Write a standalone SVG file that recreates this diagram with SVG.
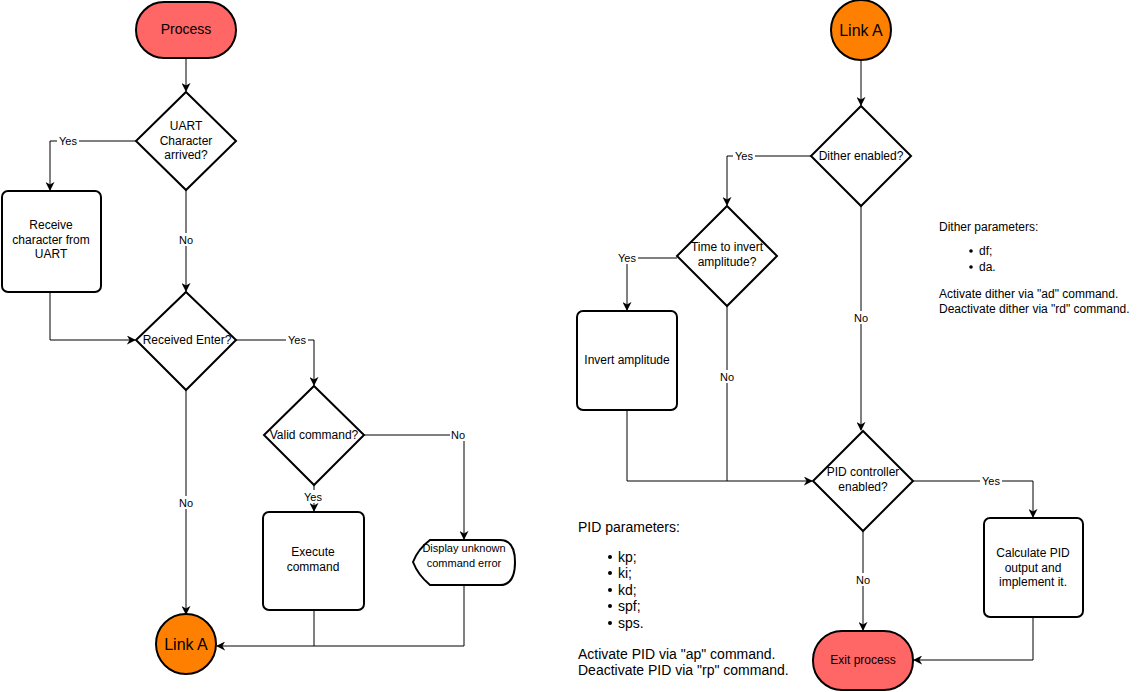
<svg xmlns="http://www.w3.org/2000/svg" width="1142" height="692" viewBox="0 0 1142 692">
<defs>
<marker id="ar" viewBox="0 0 10 10" refX="9" refY="5" markerWidth="9" markerHeight="9" orient="auto" markerUnits="userSpaceOnUse"><path d="M0,0 L10,5 L0,10 L3,5Z" fill="#000"/></marker>
</defs>
<style>
text{font-family:"Liberation Sans",Arial,sans-serif;font-size:12px;fill:#000}
.s{fill:#fff;stroke:#000;stroke-width:2}
.c{fill:none;stroke:#000;stroke-width:1;marker-end:url(#ar)}
.p{fill:none;stroke:#000;stroke-width:1}
.m{text-anchor:middle}
.l{font-size:11px;text-anchor:middle}
.lb{fill:#fff}
</style>
<rect width="1142" height="692" fill="#fff"/>
<g id="connectors">
<path class="c" d="M186,58 V91"/>
<path class="c" d="M136,141 H50 V190"/>
<path class="c" d="M186,190 V291"/>
<path class="p" d="M50,292 V340"/><path class="c" d="M50,340 H135"/>
<path class="c" d="M236,340 H314 V385"/>
<path class="c" d="M314,485 V511"/>
<path class="c" d="M364,435 H464 V539"/>
<path class="c" d="M186,390 V614"/>
<path class="c" d="M314,610 V646 H217"/>
<path class="p" d="M464,585 V646 H314"/>
<path class="c" d="M861,60 V105"/>
<path class="c" d="M811,156 H727 V205"/>
<path class="c" d="M677,258 H627 V310"/>
<path class="p" d="M727,306 V481"/>
<path class="c" d="M627,410 V481 H812"/>
<path class="c" d="M861,206 V430"/>
<path class="c" d="M913,481 H1033 V517"/>
<path class="c" d="M863,531 V630"/>
<path class="c" d="M1033,617 V660 H914"/>
<g class="labels">
<rect class="lb" x="57" y="134" width="22" height="13"/><text class="l" x="68" y="145">Yes</text>
<rect class="lb" x="178" y="233" width="16" height="13"/><text class="l" x="186" y="244">No</text>
<rect class="lb" x="286" y="333" width="22" height="13"/><text class="l" x="297" y="344">Yes</text>
<rect class="lb" x="302" y="490" width="22" height="13"/><text class="l" x="313" y="501">Yes</text>
<rect class="lb" x="450" y="428" width="16" height="13"/><text class="l" x="458" y="439">No</text>
<rect class="lb" x="178" y="496" width="16" height="13"/><text class="l" x="186" y="507">No</text>
<rect class="lb" x="733" y="149" width="22" height="13"/><text class="l" x="744" y="160">Yes</text>
<rect class="lb" x="616" y="251" width="22" height="13"/><text class="l" x="627" y="262">Yes</text>
<rect class="lb" x="719" y="370" width="16" height="13"/><text class="l" x="727" y="381">No</text>
<rect class="lb" x="853" y="311" width="16" height="13"/><text class="l" x="861" y="322">No</text>
<rect class="lb" x="980" y="474" width="22" height="13"/><text class="l" x="991" y="485">Yes</text>
<rect class="lb" x="855" y="573" width="16" height="13"/><text class="l" x="863" y="584">No</text>
</g>
</g>
<g id="process"><rect class="s" x="136" y="2" width="100" height="56" rx="28" style="fill:#FF6666"/><text class="m" x="186" y="34" style="font-size:14px">Process</text></g>
<g id="uart"><path class="s" d="M186,92 L236,141 L186,190 L136,141Z"/><text class="m" x="186" y="130">UART</text><text class="m" x="186" y="145">Character</text><text class="m" x="186" y="159">arrived?</text></g>
<g id="receive"><rect class="s" x="2" y="191" width="99" height="101" rx="6"/><text class="m" x="51" y="229">Receive</text><text class="m" x="51" y="244">character from</text><text class="m" x="51" y="258">UART</text></g>
<g id="enter"><path class="s" d="M186,292 L236,340 L186,390 L136,340Z"/><text class="m" x="187" y="344">Received Enter?</text></g>
<g id="valid"><path class="s" d="M314,386 L364,435 L314,485 L264,435Z"/><text class="m" x="314" y="439">Valid command?</text></g>
<g id="execute"><rect class="s" x="263" y="512" width="101" height="98" rx="6"/><text class="m" x="313" y="556">Execute</text><text class="m" x="313" y="571">command</text></g>
<g id="display"><path class="s" d="M430,540 L500,540 Q515,540 515,562 Q515,585 500,585 L430,585 Q418,575 413,562 Q418,549 430,540Z"/><text class="m" x="464" y="552" style="font-size:11px">Display unknown</text><text class="m" x="464" y="567" style="font-size:11px">command error</text></g>
<g id="linkA1"><circle class="s" cx="186" cy="644" r="30" style="fill:#FF8000"/><text class="m" x="186" y="650" style="font-size:16px">Link A</text></g>
<g id="linkA2"><circle class="s" cx="861" cy="30" r="30" style="fill:#FF8000"/><text class="m" x="861" y="36" style="font-size:16px">Link A</text></g>
<g id="dither"><path class="s" d="M861,106 L911,156 L861,206 L811,156Z"/><text class="m" x="861" y="160">Dither enabled?</text></g>
<g id="time"><path class="s" d="M727,206 L777,256 L727,306 L677,256Z"/><text class="m" x="727" y="251">Time to invert</text><text class="m" x="727" y="266">amplitude?</text></g>
<g id="invert"><rect class="s" x="577" y="311" width="100" height="99" rx="6"/><text class="m" x="627" y="364">Invert amplitude</text></g>
<g id="pid"><path class="s" d="M863,431 L913,481 L863,531 L813,481Z"/><text class="m" x="863" y="476">PID controller</text><text class="m" x="863" y="491">enabled?</text></g>
<g id="calc"><rect class="s" x="984" y="518" width="99" height="99" rx="6"/><text class="m" x="1033" y="557">Calculate PID</text><text class="m" x="1033" y="572">output and</text><text class="m" x="1033" y="586">implement it.</text></g>
<g id="exit"><rect class="s" x="813" y="631" width="100" height="59" rx="29" style="fill:#FF6666"/><text class="m" x="863" y="664">Exit process</text></g>
<g id="dithernote">
<text x="939" y="231">Dither parameters:</text>
<circle cx="971" cy="251" r="1.8"/><text x="979" y="255">df;</text>
<circle cx="971" cy="267" r="1.8"/><text x="979" y="271">da.</text>
<text x="939" y="298">Activate dither via "ad" command.</text>
<text x="939" y="313">Deactivate dither via "rd" command.</text>
</g>
<g id="pidnote" style="font-size:14px">
<text x="578" y="532" style="font-size:14px">PID parameters:</text>
<circle cx="610" cy="557" r="2"/><text x="618" y="562" style="font-size:14px">kp;</text>
<circle cx="610" cy="573" r="2"/><text x="618" y="578" style="font-size:14px">ki;</text>
<circle cx="610" cy="590" r="2"/><text x="618" y="595" style="font-size:14px">kd;</text>
<circle cx="610" cy="606" r="2"/><text x="618" y="611" style="font-size:14px">spf;</text>
<circle cx="610" cy="623" r="2"/><text x="618" y="628" style="font-size:14px">sps.</text>
<text x="578" y="659" style="font-size:14px">Activate PID via "ap" command.</text>
<text x="578" y="675" style="font-size:14px">Deactivate PID via "rp" command.</text>
</g>
</svg>
